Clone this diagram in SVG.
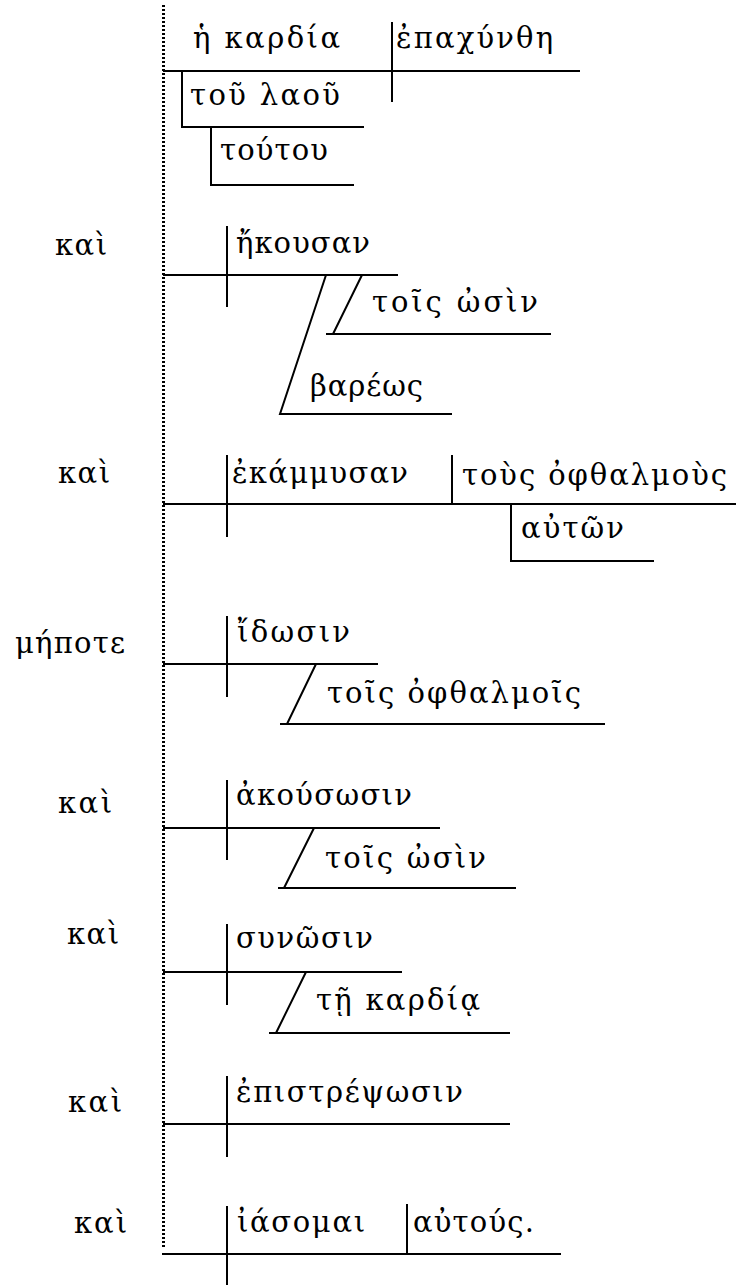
<svg xmlns="http://www.w3.org/2000/svg" width="736" height="1285" viewBox="0 0 736 1285">
<style>
.t{font-family:"DejaVu Serif","Liberation Serif",serif;font-size:29px;fill:#000}
.ln{stroke:#000;stroke-width:2;fill:none}
.dot{stroke:#000;stroke-width:3;stroke-dasharray:2 2;fill:none}
</style>
<rect width="736" height="1285" fill="#fff"/>
<g id="connectors">
<line class="dot" x1="163.5" y1="5" x2="163.5" y2="1248"/>
<!-- row 1 -->
<path class="ln" d="M163,71H580M392,22V102M182,71V127H364M211,127V185H354"/>
<!-- row 2 -->
<path class="ln" d="M163,275H398M227,226V307M362,275L333,334M326,334H551M326,275L280,414H452"/>
<!-- row 3 -->
<path class="ln" d="M163,504H736M227,455V537M452,455V504M511,504V561H654"/>
<!-- row 4 -->
<path class="ln" d="M163,664H378M227,616V697M316,664L287,724M280,724H605"/>
<!-- row 5 -->
<path class="ln" d="M163,828H440M227,780V860M314,828L284,888M278,888H516"/>
<!-- row 6 -->
<path class="ln" d="M163,972H402M227,924V1005M306,972L276,1033M269,1033H510"/>
<!-- row 7 -->
<path class="ln" d="M163,1124H510M227,1076V1157"/>
<!-- row 8 -->
<path class="ln" d="M162,1254H561M227,1206V1285M407,1204V1254"/>
</g>
<g id="n-he-kardia"><text class="t" x="193" y="48" textLength="147" lengthAdjust="spacing">ἡ καρδία</text></g>
<g id="n-epachynthe"><text class="t" x="396" y="48" textLength="157" lengthAdjust="spacing">ἐπαχύνθη</text></g>
<g id="n-tou-laou"><text class="t" x="190" y="105" textLength="150" lengthAdjust="spacing">τοῦ λαοῦ</text></g>
<g id="n-toutou"><text class="t" x="220" y="160" textLength="108" lengthAdjust="spacing">τούτου</text></g>
<g id="n-kai-2"><text class="t" x="55" y="255" textLength="52" lengthAdjust="spacing">καὶ</text></g>
<g id="n-ekousan"><text class="t" x="236" y="253" textLength="134" lengthAdjust="spacing">ἤκουσαν</text></g>
<g id="n-tois-osin-2"><text class="t" x="372" y="312" textLength="166" lengthAdjust="spacing">τοῖς ὠσὶν</text></g>
<g id="n-bareos"><text class="t" x="310" y="396" textLength="113" lengthAdjust="spacing">βαρέως</text></g>
<g id="n-kai-3"><text class="t" x="58" y="483" textLength="52" lengthAdjust="spacing">καὶ</text></g>
<g id="n-ekammysan"><text class="t" x="232" y="483" textLength="176" lengthAdjust="spacing">ἐκάμμυσαν</text></g>
<g id="n-tous-ophthalmous"><text class="t" x="462" y="485" textLength="265" lengthAdjust="spacing">τοὺς ὀφθαλμοὺς</text></g>
<g id="n-auton"><text class="t" x="521" y="538" textLength="103" lengthAdjust="spacing">αὐτῶν</text></g>
<g id="n-mepote"><text class="t" x="15" y="653" textLength="110" lengthAdjust="spacing">μήποτε</text></g>
<g id="n-idosin"><text class="t" x="237" y="642" textLength="113" lengthAdjust="spacing">ἴδωσιν</text></g>
<g id="n-tois-ophthalmois"><text class="t" x="327" y="703" textLength="254" lengthAdjust="spacing">τοῖς ὀφθαλμοῖς</text></g>
<g id="n-kai-5"><text class="t" x="58" y="813" textLength="54" lengthAdjust="spacing">καὶ</text></g>
<g id="n-akousosin"><text class="t" x="236" y="805" textLength="176" lengthAdjust="spacing">ἀκούσωσιν</text></g>
<g id="n-tois-osin-5"><text class="t" x="325" y="868" textLength="161" lengthAdjust="spacing">τοῖς ὠσὶν</text></g>
<g id="n-kai-6"><text class="t" x="67" y="944" textLength="52" lengthAdjust="spacing">καὶ</text></g>
<g id="n-synosin"><text class="t" x="236" y="948" textLength="137" lengthAdjust="spacing">συνῶσιν</text></g>
<g id="n-te-kardia"><text class="t" x="316" y="1010" textLength="164" lengthAdjust="spacing">τῇ καρδίᾳ</text></g>
<g id="n-kai-7"><text class="t" x="68" y="1112" textLength="54" lengthAdjust="spacing">καὶ</text></g>
<g id="n-epistrepsosin"><text class="t" x="236" y="1102" textLength="227" lengthAdjust="spacing">ἐπιστρέψωσιν</text></g>
<g id="n-kai-8"><text class="t" x="74" y="1233" textLength="53" lengthAdjust="spacing">καὶ</text></g>
<g id="n-iasomai"><text class="t" x="237" y="1232" textLength="128" lengthAdjust="spacing">ἰάσομαι</text></g>
<g id="n-autous"><text class="t" x="413" y="1232" textLength="121" lengthAdjust="spacing">αὐτούς.</text></g>
</svg>
